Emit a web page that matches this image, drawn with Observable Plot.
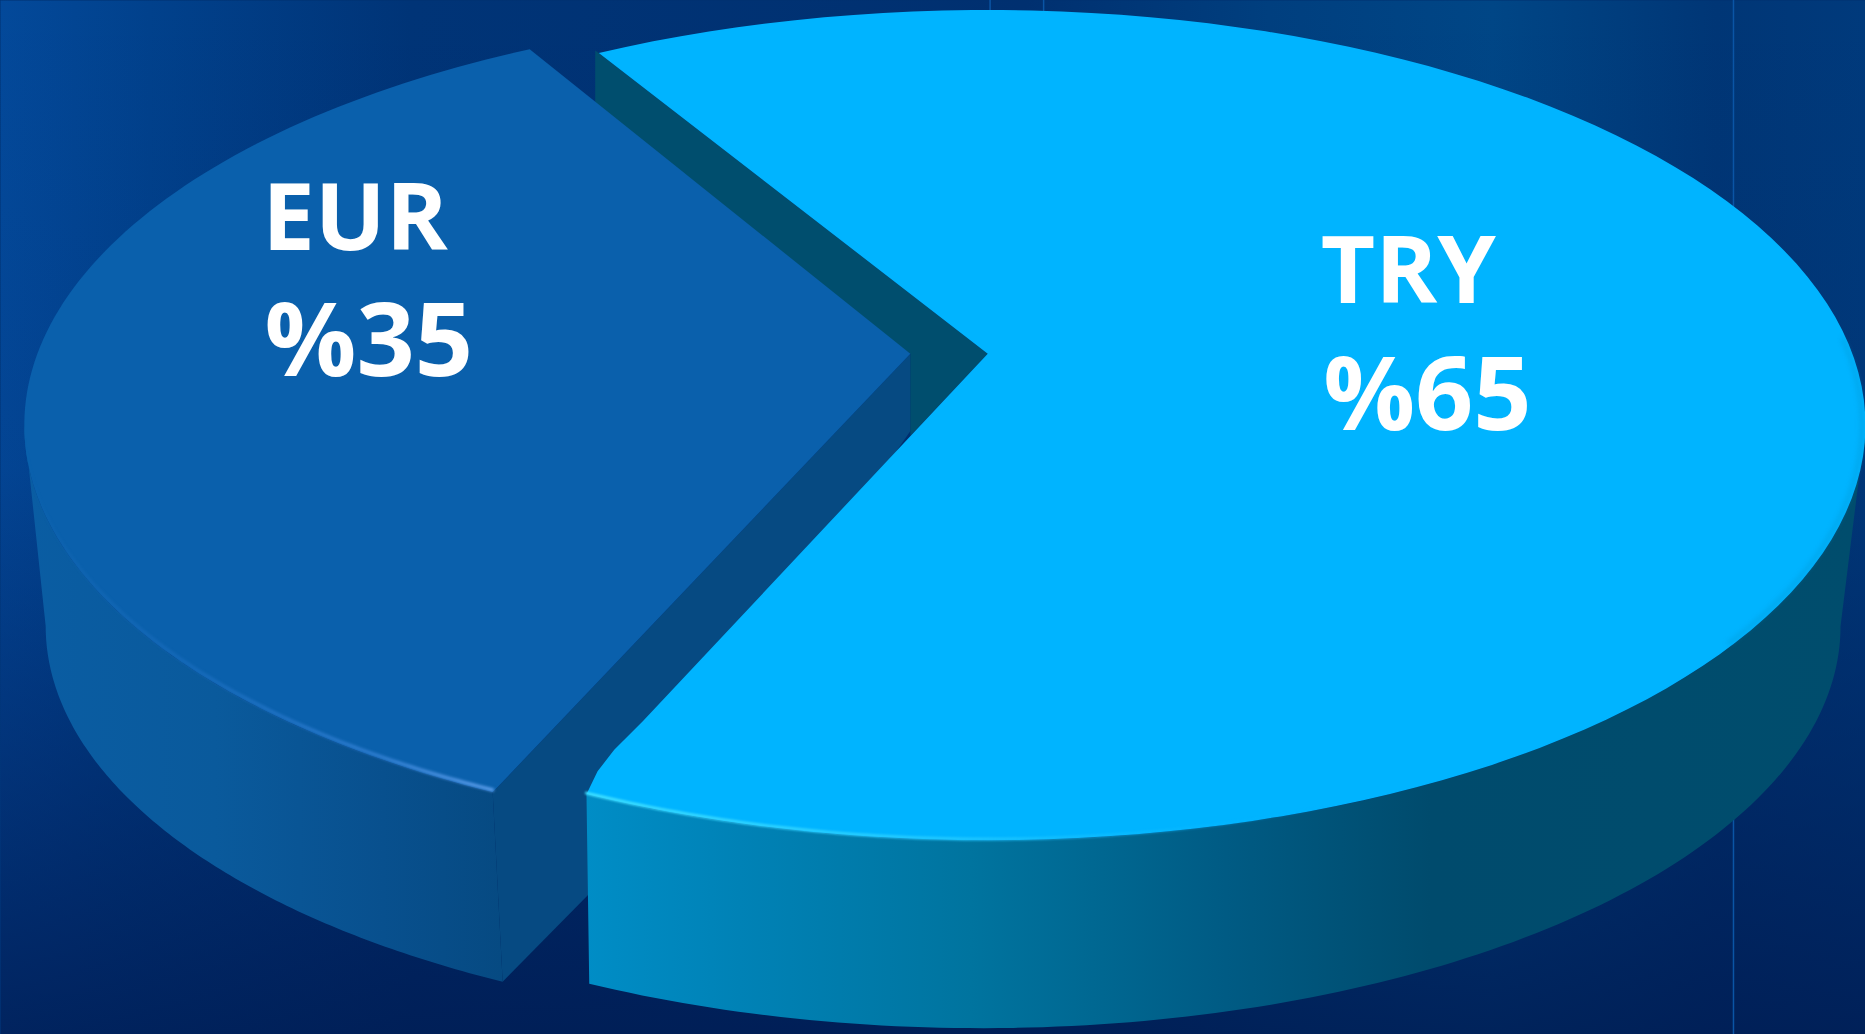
<!DOCTYPE html>
<html>
<head>
<meta charset="utf-8">
<script src="https://cdn.jsdelivr.net/npm/d3@7"></script>
<script src="https://cdn.jsdelivr.net/npm/@observablehq/plot@0.6"></script>
<style>
html,body{margin:0;padding:0;background:#00306f;overflow:hidden}
svg{display:block}
</style>
</head>
<body>
<div id="chart"></div>
<script>
const currencies = ["EUR", "TRY"];
const shares = [35, 65];
const shareLabels = ["%35", "%65"];
const colours = {EUR: "#0a60ac", TRY: "#00b4ff"};

// Slice angles come from the shares; each slice is nudged slightly by the exploded perspective
const sweep = shares.map(s => s / 100 * 360);
const angles = {
  EUR: [-152.2, -152.2 + sweep[0] + 1.1],
  TRY: [-26.3, -26.3 + sweep[1] - 0.5]
};

// Drawing space: width 1568 units, depth projected to an ellipse
const W = 1568, H = 1034 * 1568 / 1865;
const topEll = {EUR: {cx: 758, cy: 357, rx: 738, ry: 349}, TRY: {cx: 830, cy: 357, rx: 738, ry: 349}};
const lowEll = {EUR: {cx: 758, cy: 526, rx: 720, ry: 338}, TRY: {cx: 825, cy: 526, rx: 722, ry: 338}};
const apex = {EUR: {x: 765, y: 297}, TRY: {x: 830, y: 297}};

const pt = (e, t) => ({x: e.cx + e.rx * Math.sin(t * Math.PI / 180), y: e.cy - e.ry * Math.cos(t * Math.PI / 180)});
const arc = (e, a, b) => d3.range(0, 121).map(i => pt(e, a + (b - a) * i / 120));

const poly = (points, fill, extra = {}) => Plot.line(points, {x: "x", y: "y", curve: "linear-closed", fill, stroke: "none", ...extra});
const edge = (points, stroke, strokeWidth, extra = {}) => Plot.line(points, {x: "x", y: "y", stroke, strokeWidth, fill: "none", ...extra});

const stops = (id, list, attrs = {x1: 0, x2: 1, y1: 0, y2: 0}) => {
  const g = d3.create("svg:linearGradient").attr("id", id);
  for (const k in attrs) g.attr(k, attrs[k]);
  for (const [o, c, a] of list) g.append("stop").attr("offset", o).attr("stop-color", c).attr("stop-opacity", a ?? 1);
  return g.node().outerHTML;
};
const defs = () => {
  const d = d3.create("svg:defs");
  d.html(
    stops("bgH", [[0, "#03499a"], [.08, "#01418c"], [.22, "#003477"], [.55, "#003070"], [.68, "#003f7f"], [.8, "#004686"], [.92, "#003676"], [1, "#003a7c"]]) +
    stops("bgV", [[0, "#001a55", 0], [.45, "#001a55", .1], [1, "#001a50", .8]], {x1: 0, x2: 0, y1: 0, y2: 1}) +
    stops("trySide", [[0, "#008dc6"], [.12, "#0082b6"], [.3, "#00749f"], [.5, "#005b84"], [.66, "#004b6d"], [1, "#004d6d"]]) +
    stops("eurSide", [[0, "#0a5da3"], [.4, "#0a5a9c"], [.75, "#08508e"], [1, "#064a82"]]) +
    stops("tryRim", [[0, "#40e0ff"], [.35, "#20c8ff"], [.7, "#00b4ff", 0], [1, "#00b4ff", 0]]) +
    stops("eurRim", [[0, "#3f8ae0", 0], [.35, "#2f7fd8", .35], [.75, "#3f8ae0", .8], [1, "#6aa8f5"]])
  );
  return d.node();
};

const eurTop = [apex.EUR, ...arc(topEll.EUR, angles.EUR[0], angles.EUR[1])];
const tryBend = [{x: 502, y: 648}, {x: 516, y: 630}, {x: 540, y: 606}];
const tryTop = [apex.TRY, ...arc(topEll.TRY, angles.TRY[0], angles.TRY[1]), ...tryBend];

const eurA = arc(topEll.EUR, angles.EUR[0], -90);
const eurB = arc(lowEll.EUR, -90, angles.EUR[0]);
const tryA = arc(topEll.TRY, 90, angles.TRY[1]);
const tryB = arc(lowEll.TRY, angles.TRY[1], 90);
const inner = (e, d) => ({...e, rx: e.rx - d, ry: e.ry - d});

const eurCorner = pt(topEll.EUR, angles.EUR[0]);
const eurLowCorner = pt(lowEll.EUR, angles.EUR[0]);
const tryStart = pt(topEll.TRY, angles.TRY[0]);

// Cut faces seen between the two slices
const eurFace = [apex.EUR, eurCorner, eurLowCorner, {x: 494, y: 752}, {x: 765, y: 362}];
const tryWall = [tryStart, apex.TRY, {x: 765, y: 366}, apex.EUR, {x: 500, y: 110}, {x: 500, y: 42}];

const label = (text, x, y, fontSize) => Plot.text([text], {
  x: [x], y: [y], fontFamily: "Open Sans", fontWeight: 700, fontSize, fill: "white",
  textAnchor: "start", lineAnchor: "bottom"
});

const plot = Plot.plot({
  width: 1865, height: 1034,
  margin: 0,
  axis: null,
  x: {domain: [0, W], range: [0, 1865]},
  y: {domain: [0, H], range: [0, 1034]},
  marks: [
    defs,
    Plot.frame({fill: "url(#bgH)", stroke: "none"}),
    Plot.frame({fill: "url(#bgV)", stroke: "none"}),
    Plot.ruleX([832, 877], {y1: 0, y2: 12, stroke: "#0a55a5", strokeWidth: 1.5}),
    Plot.ruleX([1457], {y1: 0, y2: H, stroke: "#0a55a5", strokeWidth: 1.5}),
    // EUR slice
    poly([...eurA, ...eurB], "url(#eurSide)"),
    poly(eurFace, "#064a82"),
    // TRY cut wall
    poly(tryWall, "#004e6e"),
    poly(eurTop, colours.EUR),
    edge(arc(topEll.EUR, -90, angles.EUR[0]).map(p => ({x: p.x, y: p.y - 2})), "url(#eurRim)", 3, {imageFilter: "blur(1.5px)"}),
    // TRY slice
    poly([...tryA, ...tryB], "url(#trySide)"),
    poly(tryTop, colours.TRY),
    edge(arc(topEll.TRY, angles.TRY[1], 130).map(p => ({x: p.x, y: p.y - 1})), "url(#tryRim)", 3, {imageFilter: "blur(1px)"}),
    edge(arc(inner(topEll.TRY, 3), 78, 122), "#0090c8", 3, {imageFilter: "blur(2.5px)", strokeOpacity: 0.45}),
    // Labels
    label(currencies[0], 220, 210, 94),
    label(shareLabels[0], 222, 316, 102),
    label(currencies[1], 1110, 254, 94),
    label(shareLabels[1], 1112, 361, 102)
  ]
});
document.getElementById("chart").append(plot);
</script>
</body>
</html>
